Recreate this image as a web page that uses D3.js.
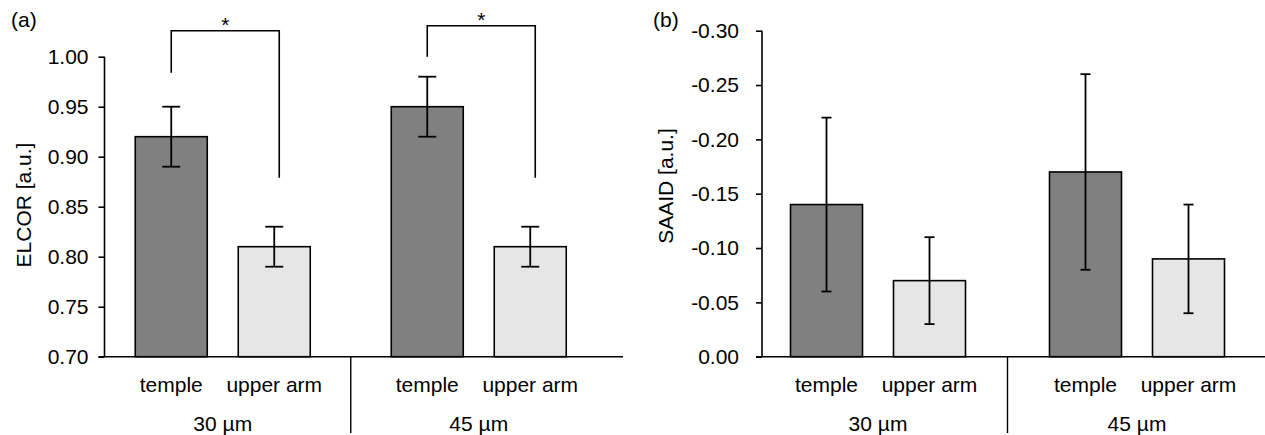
<!DOCTYPE html>
<html><head><meta charset="utf-8">
<script src="https://cdn.jsdelivr.net/npm/d3@7"></script>
<style>
body{margin:0;background:#fff;}
svg text{font-family:"Liberation Sans",Arial,Helvetica,sans-serif;fill:#000;}
</style></head>
<body><svg id="c" width="1265" height="435"></svg>
<script>
// ---- data ----
const groups = ["30 µm", "45 µm"];
const sites = ["temple", "upper arm"];
// order: [group][site]
const elcorMean = [[0.92, 0.81], [0.95, 0.81]];
const elcorErr  = [[0.03, 0.02], [0.03, 0.02]];
const saaidMean = [[-0.14, -0.07], [-0.17, -0.09]];
const saaidErr  = [[0.08, 0.04], [0.09, 0.05]];
const elcorTicks = [0.70, 0.75, 0.80, 0.85, 0.90, 0.95, 1.00];
const saaidTicks = [0.00, -0.05, -0.10, -0.15, -0.20, -0.25, -0.30];
// significance brackets (a): group, left-leg end, top, right-leg end
const elcorSig = [
  {group: "30 µm", left: 0.984, top: 1.026, right: 0.879, label: "*"},
  {group: "45 µm", left: 1.000, top: 1.031, right: 0.879, label: "*"}
];
const siteFill = {"temple": "#808080", "upper arm": "#e6e6e6"};

const svg = d3.select("#c");
const FS = 21;

function panel(opt) {
  const g = svg.append("g");
  const y = d3.scaleLinear().domain(opt.domain).range([opt.yBottom, opt.yTop]);
  const xo = d3.scaleBand().domain(groups).range(opt.groupRange);
  const xi = d3.scalePoint().domain(sites).range([-51.5, 51.5]);
  const cx = (gr, s) => xo(gr) + xo.bandwidth() / 2 + xi(s);
  const bw = 72;

  // bars
  const rows = [];
  groups.forEach((gr, gi) => sites.forEach((s, si) =>
    rows.push({gr, s, m: opt.mean[gi][si], e: opt.err[gi][si]})));
  g.selectAll("rect.bar").data(rows).join("rect")
    .attr("x", d => cx(d.gr, d.s) - bw / 2)
    .attr("width", bw)
    .attr("y", d => Math.min(y(d.m), y(opt.base)))
    .attr("height", d => Math.abs(y(opt.base) - y(d.m)))
    .attr("fill", d => siteFill[d.s])
    .attr("stroke", "#000").attr("stroke-width", 1.6);

  // error bars
  const eg = g.selectAll("g.err").data(rows).join("g").attr("stroke", "#000").attr("stroke-width", 1.8);
  eg.append("line").attr("x1", d => cx(d.gr, d.s)).attr("x2", d => cx(d.gr, d.s))
    .attr("y1", d => y(d.m - d.e)).attr("y2", d => y(d.m + d.e));
  eg.append("line").attr("x1", d => cx(d.gr, d.s) - opt.cap).attr("x2", d => cx(d.gr, d.s) + opt.cap)
    .attr("y1", d => y(d.m - d.e)).attr("y2", d => y(d.m - d.e));
  eg.append("line").attr("x1", d => cx(d.gr, d.s) - opt.cap).attr("x2", d => cx(d.gr, d.s) + opt.cap)
    .attr("y1", d => y(d.m + d.e)).attr("y2", d => y(d.m + d.e));

  // y axis
  const ax = g.append("g").attr("transform", `translate(${opt.axisX},0)`)
    .call(d3.axisLeft(y).tickValues(opt.ticks).tickSize(6).tickPadding(opt.pad));
  ax.select(".domain").attr("stroke-width", 1.6).attr("d", `M0,${opt.yBottom}V${opt.yTop}`);
  ax.selectAll(".tick line").attr("stroke-width", 1.6);
  ax.selectAll(".tick text").attr("font-size", FS).attr("font-family", "Liberation Sans, Arial, sans-serif")
    .text(d => d3.format(".2f")(d).replace("−", "-"));

  // x axis baseline
  g.append("line").attr("x1", opt.axisX - 6).attr("x2", opt.xEnd)
    .attr("y1", opt.yBottom).attr("y2", opt.yBottom).attr("stroke", "#000").attr("stroke-width", 1.6);
  // group separator
  g.append("line").attr("x1", xo(groups[1])).attr("x2", xo(groups[1]))
    .attr("y1", opt.yBottom).attr("y2", 433).attr("stroke", "#000").attr("stroke-width", 1.4);

  // category labels
  g.selectAll("text.site").data(rows).join("text")
    .attr("x", d => cx(d.gr, d.s)).attr("y", 392).attr("text-anchor", "middle")
    .attr("font-size", FS).text(d => d.s);
  g.selectAll("text.grp").data(groups).join("text")
    .attr("x", d => xo(d) + xo.bandwidth() / 2).attr("y", 431).attr("text-anchor", "middle")
    .attr("font-size", FS).text(d => d);

  // y label
  g.append("text").attr("transform", `translate(${opt.labelX},${opt.labelY}) rotate(-90)`)
    .attr("text-anchor", "middle").attr("font-size", FS).text(opt.label);
  // panel tag
  g.append("text").attr("x", opt.tagX).attr("y", 27).attr("font-size", FS).text(opt.tag);

  return {g, y, cx};
}

const A = panel({
  domain: [0.70, 1.00], yBottom: 356.7, yTop: 56.7, base: 0.70,
  groupRange: [94.75, 606.75], axisX: 104.5, xEnd: 623,
  mean: elcorMean, err: elcorErr, ticks: elcorTicks, cap: 9, pad: 10,
  label: "ELCOR [a.u.]", labelX: 31, labelY: 205, tag: "(a)", tagX: 11
});
const B = panel({
  domain: [0.00, -0.30], yBottom: 356.7, yTop: 30.7, base: 0.00,
  groupRange: [748.5, 1266.5], axisX: 762, xEnd: 1265,
  mean: saaidMean, err: saaidErr, ticks: saaidTicks, cap: 5, pad: 17,
  label: "SAAID [a.u.]", labelX: 673, labelY: 186, tag: "(b)", tagX: 653
});

// significance brackets
elcorSig.forEach((b, i) => {
  const xl = A.cx(b.group, sites[0]);
  const xr = A.cx(b.group, sites[1]) + 5;
  A.g.append("path")
    .attr("d", `M${xl},${A.y(b.left)}V${A.y(b.top)}H${xr}V${A.y(b.right)}`)
    .attr("fill", "none").attr("stroke", "#000").attr("stroke-width", 1.6);
  A.g.append("text").attr("x", (xl + xr) / 2).attr("y", A.y(b.top) + 1)
    .attr("text-anchor", "middle").attr("font-size", FS).text(b.label);
});
</script></body></html>
